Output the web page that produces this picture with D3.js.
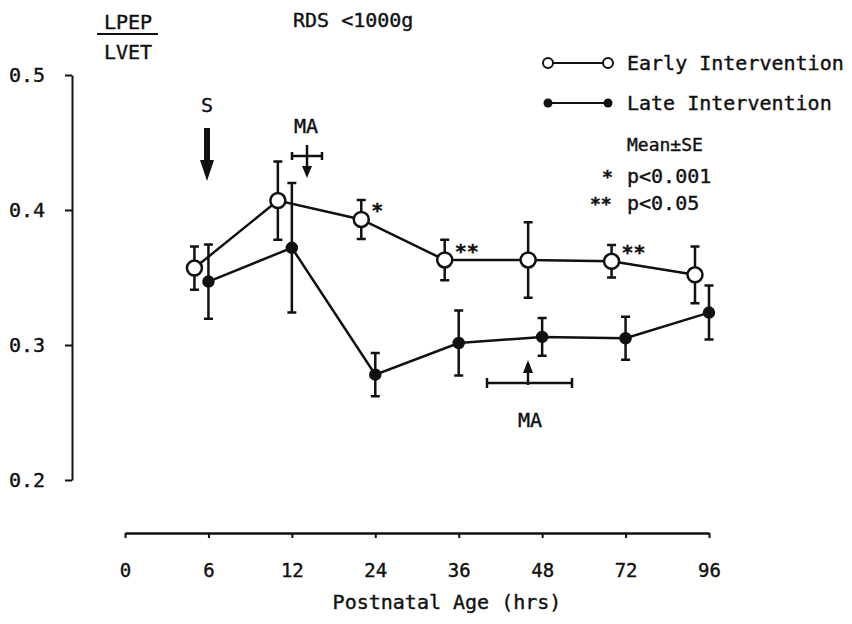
<!DOCTYPE html>
<html>
<head>
<meta charset="utf-8">
<script src="https://cdn.jsdelivr.net/npm/d3@7"></script>
<style>
  body { margin: 0; background: #fff; }
  text { font-family: "DejaVu Sans Mono", "Liberation Mono", monospace; fill: #111; stroke: #111; stroke-width: 0.4px; }
</style>
</head>
<body>
<script>
// categories on the x axis (postnatal age, hrs)
var hours = ["0", "6", "12", "24", "36", "48", "72", "96"];
var yTicks = [0.2, 0.3, 0.4, 0.5];

// measured points
var pointHours = ["6", "12", "24", "36", "48", "72", "96"];
var earlyMean = [0.357, 0.407, 0.393, 0.363, 0.363, 0.362, 0.352];
var earlySE   = [0.016, 0.029, 0.0145, 0.015, 0.028, 0.012, 0.021];
var lateMean  = [0.347, 0.372, 0.278, 0.3015, 0.306, 0.305, 0.324];
var lateSE    = [0.0275, 0.048, 0.016, 0.024, 0.014, 0.016, 0.020];
var earlySig  = ["", "", "*", "**", "", "**", ""];

var width = 852, height = 624;

var svg = d3.select("body").append("svg")
    .attr("width", width)
    .attr("height", height);

var x = d3.scalePoint().domain(hours).range([125, 709]);
var y = d3.scaleLinear().domain([0.2, 0.5]).range([480, 75]);
var earlyShift = -14;

// y axis
var yAxis = svg.append("g")
    .attr("transform", "translate(72,0)")
    .call(d3.axisLeft(y).tickValues(yTicks).tickFormat(d3.format(".1f"))
      .tickSize(7).tickSizeOuter(0).tickPadding(20));
yAxis.select(".domain").attr("stroke", "#111").attr("stroke-width", 2);
yAxis.selectAll(".tick line").attr("stroke", "#111").attr("stroke-width", 2);
yAxis.selectAll(".tick text").attr("font-size", 20).style("font-family", "DejaVu Sans Mono");

// x axis
var xAxis = svg.append("g")
    .attr("transform", "translate(0,533)")
    .call(d3.axisBottom(x).tickSize(5).tickSizeOuter(0).tickPadding(26));
xAxis.select(".domain").attr("stroke", "#111").attr("stroke-width", 2.5);
xAxis.selectAll(".tick line").attr("stroke", "#111").attr("stroke-width", 2);
xAxis.selectAll(".tick text").attr("font-size", 19).style("font-family", "DejaVu Sans Mono");

svg.append("text").attr("x", 447).attr("y", 609).attr("text-anchor", "middle")
    .attr("font-size", 20).text("Postnatal Age (hrs)");

// y label as a fraction
svg.append("text").attr("x", 128).attr("y", 29).attr("text-anchor", "middle")
    .attr("font-size", 20).text("LPEP");
svg.append("line").attr("x1", 97).attr("x2", 158).attr("y1", 34).attr("y2", 34)
    .attr("stroke", "#111").attr("stroke-width", 2);
svg.append("text").attr("x", 128).attr("y", 59).attr("text-anchor", "middle")
    .attr("font-size", 20).text("LVET");

svg.append("text").attr("x", 293).attr("y", 27).attr("font-size", 20).text("RDS <1000g");

function drawSeries(mean, se, shift, open) {
  var pts = pointHours.map(function (h, i) {
    return { x: x(h) + shift, m: mean[i], s: se[i] };
  });
  var g = svg.append("g");
  g.append("path").datum(pts)
    .attr("fill", "none").attr("stroke", "#111").attr("stroke-width", 2.5)
    .attr("d", d3.line().x(function (d) { return d.x; }).y(function (d) { return y(d.m); }));
  g.selectAll(".eb").data(pts).enter().append("path")
    .attr("fill", "none").attr("stroke", "#111").attr("stroke-width", 2.5)
    .attr("d", function (d) {
      var t = y(d.m + d.s), b = y(d.m - d.s);
      return "M" + (d.x - 4.5) + "," + t + "H" + (d.x + 4.5) +
             "M" + d.x + "," + t + "V" + b +
             "M" + (d.x - 4.5) + "," + b + "H" + (d.x + 4.5);
    });
  g.selectAll("circle").data(pts).enter().append("circle")
    .attr("cx", function (d) { return d.x; })
    .attr("cy", function (d) { return y(d.m); })
    .attr("r", open ? 7.5 : 5)
    .attr("fill", open ? "#fff" : "#111")
    .attr("stroke", "#111").attr("stroke-width", 2.5);
  return pts;
}

var latePts = drawSeries(lateMean, lateSE, 0, false);
var earlyPts = drawSeries(earlyMean, earlySE, earlyShift, true);

svg.selectAll(".sig").data(earlyPts).enter().append("text")
    .attr("x", function (d) { return d.x + 10; })
    .attr("y", function (d) { return y(d.m) - 2; })
    .attr("font-size", 20).attr("font-weight", "bold")
    .text(function (d, i) { return earlySig[i]; });

// S arrow
svg.append("text").attr("x", 207).attr("y", 112).attr("text-anchor", "middle")
    .attr("font-size", 20).text("S");
svg.append("line").attr("x1", 207).attr("x2", 207).attr("y1", 128).attr("y2", 164)
    .attr("stroke", "#111").attr("stroke-width", 6);
svg.append("path").attr("d", "M200,160 L214,160 L207,181 Z").attr("fill", "#111");

// MA (early) marker
svg.append("text").attr("x", 306).attr("y", 133).attr("text-anchor", "middle")
    .attr("font-size", 20).text("MA");
svg.append("path").attr("fill", "none").attr("stroke", "#111").attr("stroke-width", 2.5)
    .attr("d", "M292,156 H322 M292,152 V160 M322,152 V160 M307,145 V168");
svg.append("path").attr("d", "M302,166 L312,166 L307,178 Z").attr("fill", "#111");

// MA (late) marker
svg.append("text").attr("x", 530).attr("y", 427).attr("text-anchor", "middle")
    .attr("font-size", 20).text("MA");
svg.append("path").attr("fill", "none").attr("stroke", "#111").attr("stroke-width", 2.5)
    .attr("d", "M487,383 H572 M487,378 V388 M572,378 V388 M528,385 V372");
svg.append("path").attr("d", "M523,373 L533,373 L528,360 Z").attr("fill", "#111");

// legend
var lg = svg.append("g");
lg.append("line").attr("x1", 548).attr("x2", 608).attr("y1", 63).attr("y2", 63)
    .attr("stroke", "#111").attr("stroke-width", 2);
lg.selectAll(".lo").data([548, 608]).enter().append("circle")
    .attr("cx", function (d) { return d; }).attr("cy", 63).attr("r", 5)
    .attr("fill", "#fff").attr("stroke", "#111").attr("stroke-width", 2);
lg.append("text").attr("x", 627).attr("y", 70).attr("font-size", 20).text("Early Intervention");
lg.append("line").attr("x1", 548).attr("x2", 608).attr("y1", 103).attr("y2", 103)
    .attr("stroke", "#111").attr("stroke-width", 2);
lg.selectAll(".lf").data([548, 608]).enter().append("circle")
    .attr("cx", function (d) { return d; }).attr("cy", 103).attr("r", 4.5)
    .attr("fill", "#111");
lg.append("text").attr("x", 627).attr("y", 110).attr("font-size", 20).text("Late Intervention");
lg.append("text").attr("x", 627).attr("y", 151).attr("font-size", 18).text("Mean±SE");
lg.append("text").attr("x", 602).attr("y", 183).attr("font-size", 18).attr("font-weight", "bold").text("*");
lg.append("text").attr("x", 627).attr("y", 183).attr("font-size", 20).text("p<0.001");
lg.append("text").attr("x", 590).attr("y", 210).attr("font-size", 18).attr("font-weight", "bold").text("**");
lg.append("text").attr("x", 627).attr("y", 210).attr("font-size", 20).text("p<0.05");
</script>
</body>
</html>
